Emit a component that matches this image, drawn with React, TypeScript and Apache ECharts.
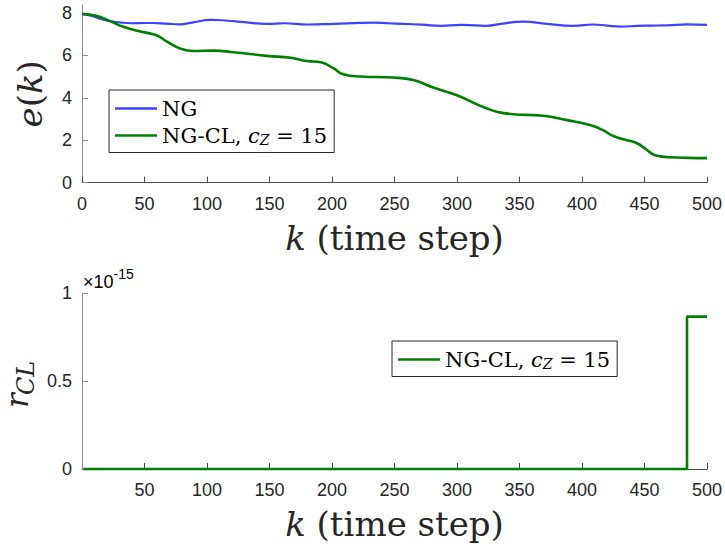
import React, { useEffect, useRef } from "react";
import * as echarts from "echarts";

// Time steps shared by both panels
const stepTicks = [0, 50, 100, 150, 200, 250, 300, 350, 400, 450, 500];
const stepTicksLower = [50, 100, 150, 200, 250, 300, 350, 400, 450, 500];
const errTicks = [0, 2, 4, 6, 8];
const rTicks = [0, 0.5, 1];

// e(k) for plain NG
const ngK = [0, 8, 15, 22, 30, 40, 50, 57, 68, 78, 89, 103, 115, 130, 148, 162, 180, 201, 223, 233, 245, 257, 272, 287, 303, 315, 324, 335, 353, 372, 393, 409, 420, 431, 444, 456, 468, 484, 500];
const ngV = [7.96, 7.86, 7.72, 7.63, 7.56, 7.52, 7.53, 7.53, 7.5, 7.47, 7.56, 7.68, 7.65, 7.57, 7.49, 7.52, 7.46, 7.49, 7.54, 7.55, 7.52, 7.49, 7.45, 7.4, 7.44, 7.42, 7.4, 7.49, 7.6, 7.49, 7.4, 7.46, 7.41, 7.36, 7.4, 7.41, 7.42, 7.47, 7.44];

// e(k) for NG-CL with c_Z = 15
const clK = [0, 12, 22, 33, 46, 57, 62, 68, 79, 89, 105, 121, 148, 167, 180, 191, 201, 209, 223, 249, 265, 281, 300, 324, 343, 369, 388, 407, 416, 425, 436, 444, 452, 457, 463, 470, 485, 500];
const clV = [7.96, 7.86, 7.63, 7.35, 7.14, 7.0, 6.88, 6.65, 6.32, 6.21, 6.23, 6.15, 5.98, 5.89, 5.74, 5.68, 5.4, 5.12, 5.01, 4.96, 4.84, 4.49, 4.12, 3.5, 3.24, 3.16, 2.95, 2.71, 2.5, 2.2, 2.0, 1.86, 1.54, 1.33, 1.24, 1.2, 1.17, 1.16];

// r_CL (in units of 10^rclExponent)
const rclExponent = -15;
const rclK = [1, 484, 500];
const rclV = [0, 0.867, 0.867];

const SERIF = '"DejaVu Serif", "Liberation Serif", serif';
const SANS = '"Liberation Sans", Arial, Helvetica, sans-serif';
const INK = "#262626";
const X_LINE = "#4a4a4a";
const Y_LINE = "#8c8c8c";
const BLUE = "#4040ff";
const GREEN = "#008000";

const pairs = (ks: number[], vs: number[]) => ks.map((k, i) => [k, vs[i]]);

const legendRich = {
  n: { fontFamily: SERIF, fontSize: 21, color: "#000", lineHeight: 22 },
  i: { fontFamily: SERIF, fontSize: 21, fontStyle: "italic", color: "#000", lineHeight: 22 },
  s: { fontFamily: SERIF, fontSize: 14, fontStyle: "italic", color: "#000", lineHeight: 8, verticalAlign: "bottom" },
};

const legendFormatter = (name: string) =>
  name === "NG-CL" ? "{n|NG-CL, }{i|c}{s|Z}{n| = 15}" : `{n|${name}}`;

// Axis titles
const nameRich = {
  i: { fontFamily: SERIF, fontSize: 34, fontStyle: "italic", color: INK, lineHeight: 46 },
  n: { fontFamily: SERIF, fontSize: 34, color: INK, lineHeight: 46 },
};

const tickLabel = { fontFamily: SANS, fontSize: 18, color: INK };

const legendBox = {
  orient: "vertical" as const,
  padding: [8, 7, 6, 6],
  itemGap: 6,
  itemWidth: 42,
  itemHeight: 2.6,
  icon: "rect",
  borderColor: INK,
  borderWidth: 1,
  borderRadius: 0,
  backgroundColor: "#fff",
  selectedMode: false,
  formatter: legendFormatter,
  textStyle: { rich: legendRich },
};

function buildOption(): echarts.EChartsOption {
  const xAxisBase = (gridIndex: number, labels: number[]) => ({
    type: "value" as const,
    gridIndex,
    min: 0,
    max: 500,
    interval: 50,
    name: "{i|k}{n| (time step)}",
    nameLocation: "middle" as const,
    nameGap: 32,
    nameTextStyle: { rich: nameRich },
    axisLine: { show: true, onZero: false, lineStyle: { color: X_LINE, width: 1 } },
    axisTick: { show: true, inside: true, length: 6, customValues: labels, lineStyle: { color: X_LINE } },
    axisLabel: { ...tickLabel, margin: 12, customValues: labels },
    splitLine: { show: false },
  });

  const vertical = Math.PI / 2;

  return {
    animation: false,
    backgroundColor: "#fff",
    grid: [
      { left: 82, right: 18, top: 5, height: 177.7, outerBoundsMode: "none" } as any,
      { left: 82, right: 18, top: 293.3, height: 175.7, outerBoundsMode: "none" } as any,
    ],
    xAxis: [xAxisBase(0, stepTicks), xAxisBase(1, stepTicksLower)],
    yAxis: [
      {
        type: "value",
        gridIndex: 0,
        min: 0,
        max: 8.38,
        interval: 2,
        name: "{i|e}{n|(}{i|k}{n|)}",
        nameLocation: "middle",
        nameRotate: 90,
        nameGap: 29,
        nameTextStyle: { rich: nameRich },
        axisLine: { show: true, onZero: false, lineStyle: { color: Y_LINE, width: 1 } },
        axisTick: { show: true, inside: true, length: 6, customValues: errTicks, lineStyle: { color: Y_LINE } },
        axisLabel: { ...tickLabel, margin: 10, customValues: errTicks },
        splitLine: { show: false },
      } as any,
      {
        type: "value",
        gridIndex: 1,
        min: 0,
        max: 1,
        interval: 0.5,
        axisLine: { show: true, onZero: false, lineStyle: { color: Y_LINE, width: 1 } },
        axisTick: { show: true, inside: true, length: 6, customValues: rTicks, lineStyle: { color: Y_LINE } },
        axisLabel: { ...tickLabel, margin: 10, customValues: rTicks },
        splitLine: { show: false },
      } as any,
    ],
    legend: [
      { ...legendBox, data: ["NG", "NG-CL"], left: 109, top: 90 },
      { ...legendBox, data: ["NG-CL"], left: 392, top: 341 },
    ],
    graphic: [
      {
        type: "text",
        left: 83,
        top: 267,
        style: {
          text: `{a|×10}{b|${rclExponent}}`,
          rich: {
            a: { fontFamily: SANS, fontSize: 18, color: INK, lineHeight: 24, verticalAlign: "bottom" },
            b: { fontFamily: SANS, fontSize: 14, color: INK, lineHeight: 14, verticalAlign: "top" },
          },
        } as any,
      },
      // r_CL axis title, written bottom-to-top with a lowered subscript
      {
        type: "text",
        x: 17,
        y: 408,
        rotation: vertical,
        style: {
          text: "r",
          fontFamily: SERIF,
          fontSize: 31,
          fontStyle: "italic",
          fill: INK,
          align: "left",
          verticalAlign: "middle",
        },
      } as any,
      {
        type: "text",
        x: 26,
        y: 395,
        rotation: vertical,
        style: {
          text: "CL",
          fontFamily: SERIF,
          fontSize: 24,
          fontStyle: "italic",
          fill: INK,
          align: "left",
          verticalAlign: "middle",
        },
      } as any,
    ],
    series: [
      {
        name: "NG",
        type: "line",
        xAxisIndex: 0,
        yAxisIndex: 0,
        data: pairs(ngK, ngV),
        symbol: "none",
        smooth: 0.5,
        lineStyle: { color: BLUE, width: 2.2 },
        itemStyle: { color: BLUE },
        z: 2,
      },
      {
        name: "NG-CL",
        type: "line",
        xAxisIndex: 0,
        yAxisIndex: 0,
        data: pairs(clK, clV),
        symbol: "none",
        smooth: 0.5,
        lineStyle: { color: GREEN, width: 2.6 },
        itemStyle: { color: GREEN },
        z: 3,
      },
      {
        name: "NG-CL",
        id: "rcl",
        type: "line",
        xAxisIndex: 1,
        yAxisIndex: 1,
        data: pairs(rclK, rclV),
        step: "end",
        symbol: "none",
        clip: false,
        lineStyle: { color: GREEN, width: 2.6 },
        itemStyle: { color: GREEN },
        z: 3,
      },
    ],
  } as echarts.EChartsOption;
}

export default function App() {
  const ref = useRef<HTMLDivElement>(null);
  useEffect(() => {
    if (!ref.current) return;
    const chart = echarts.init(ref.current, null, { renderer: "svg" });
    chart.setOption(buildOption());
    return () => chart.dispose();
  }, []);
  return (
    <div
      ref={ref}
      style={{ position: "fixed", left: 0, top: 0, width: 725, height: 550, background: "#fff" }}
    />
  );
}
